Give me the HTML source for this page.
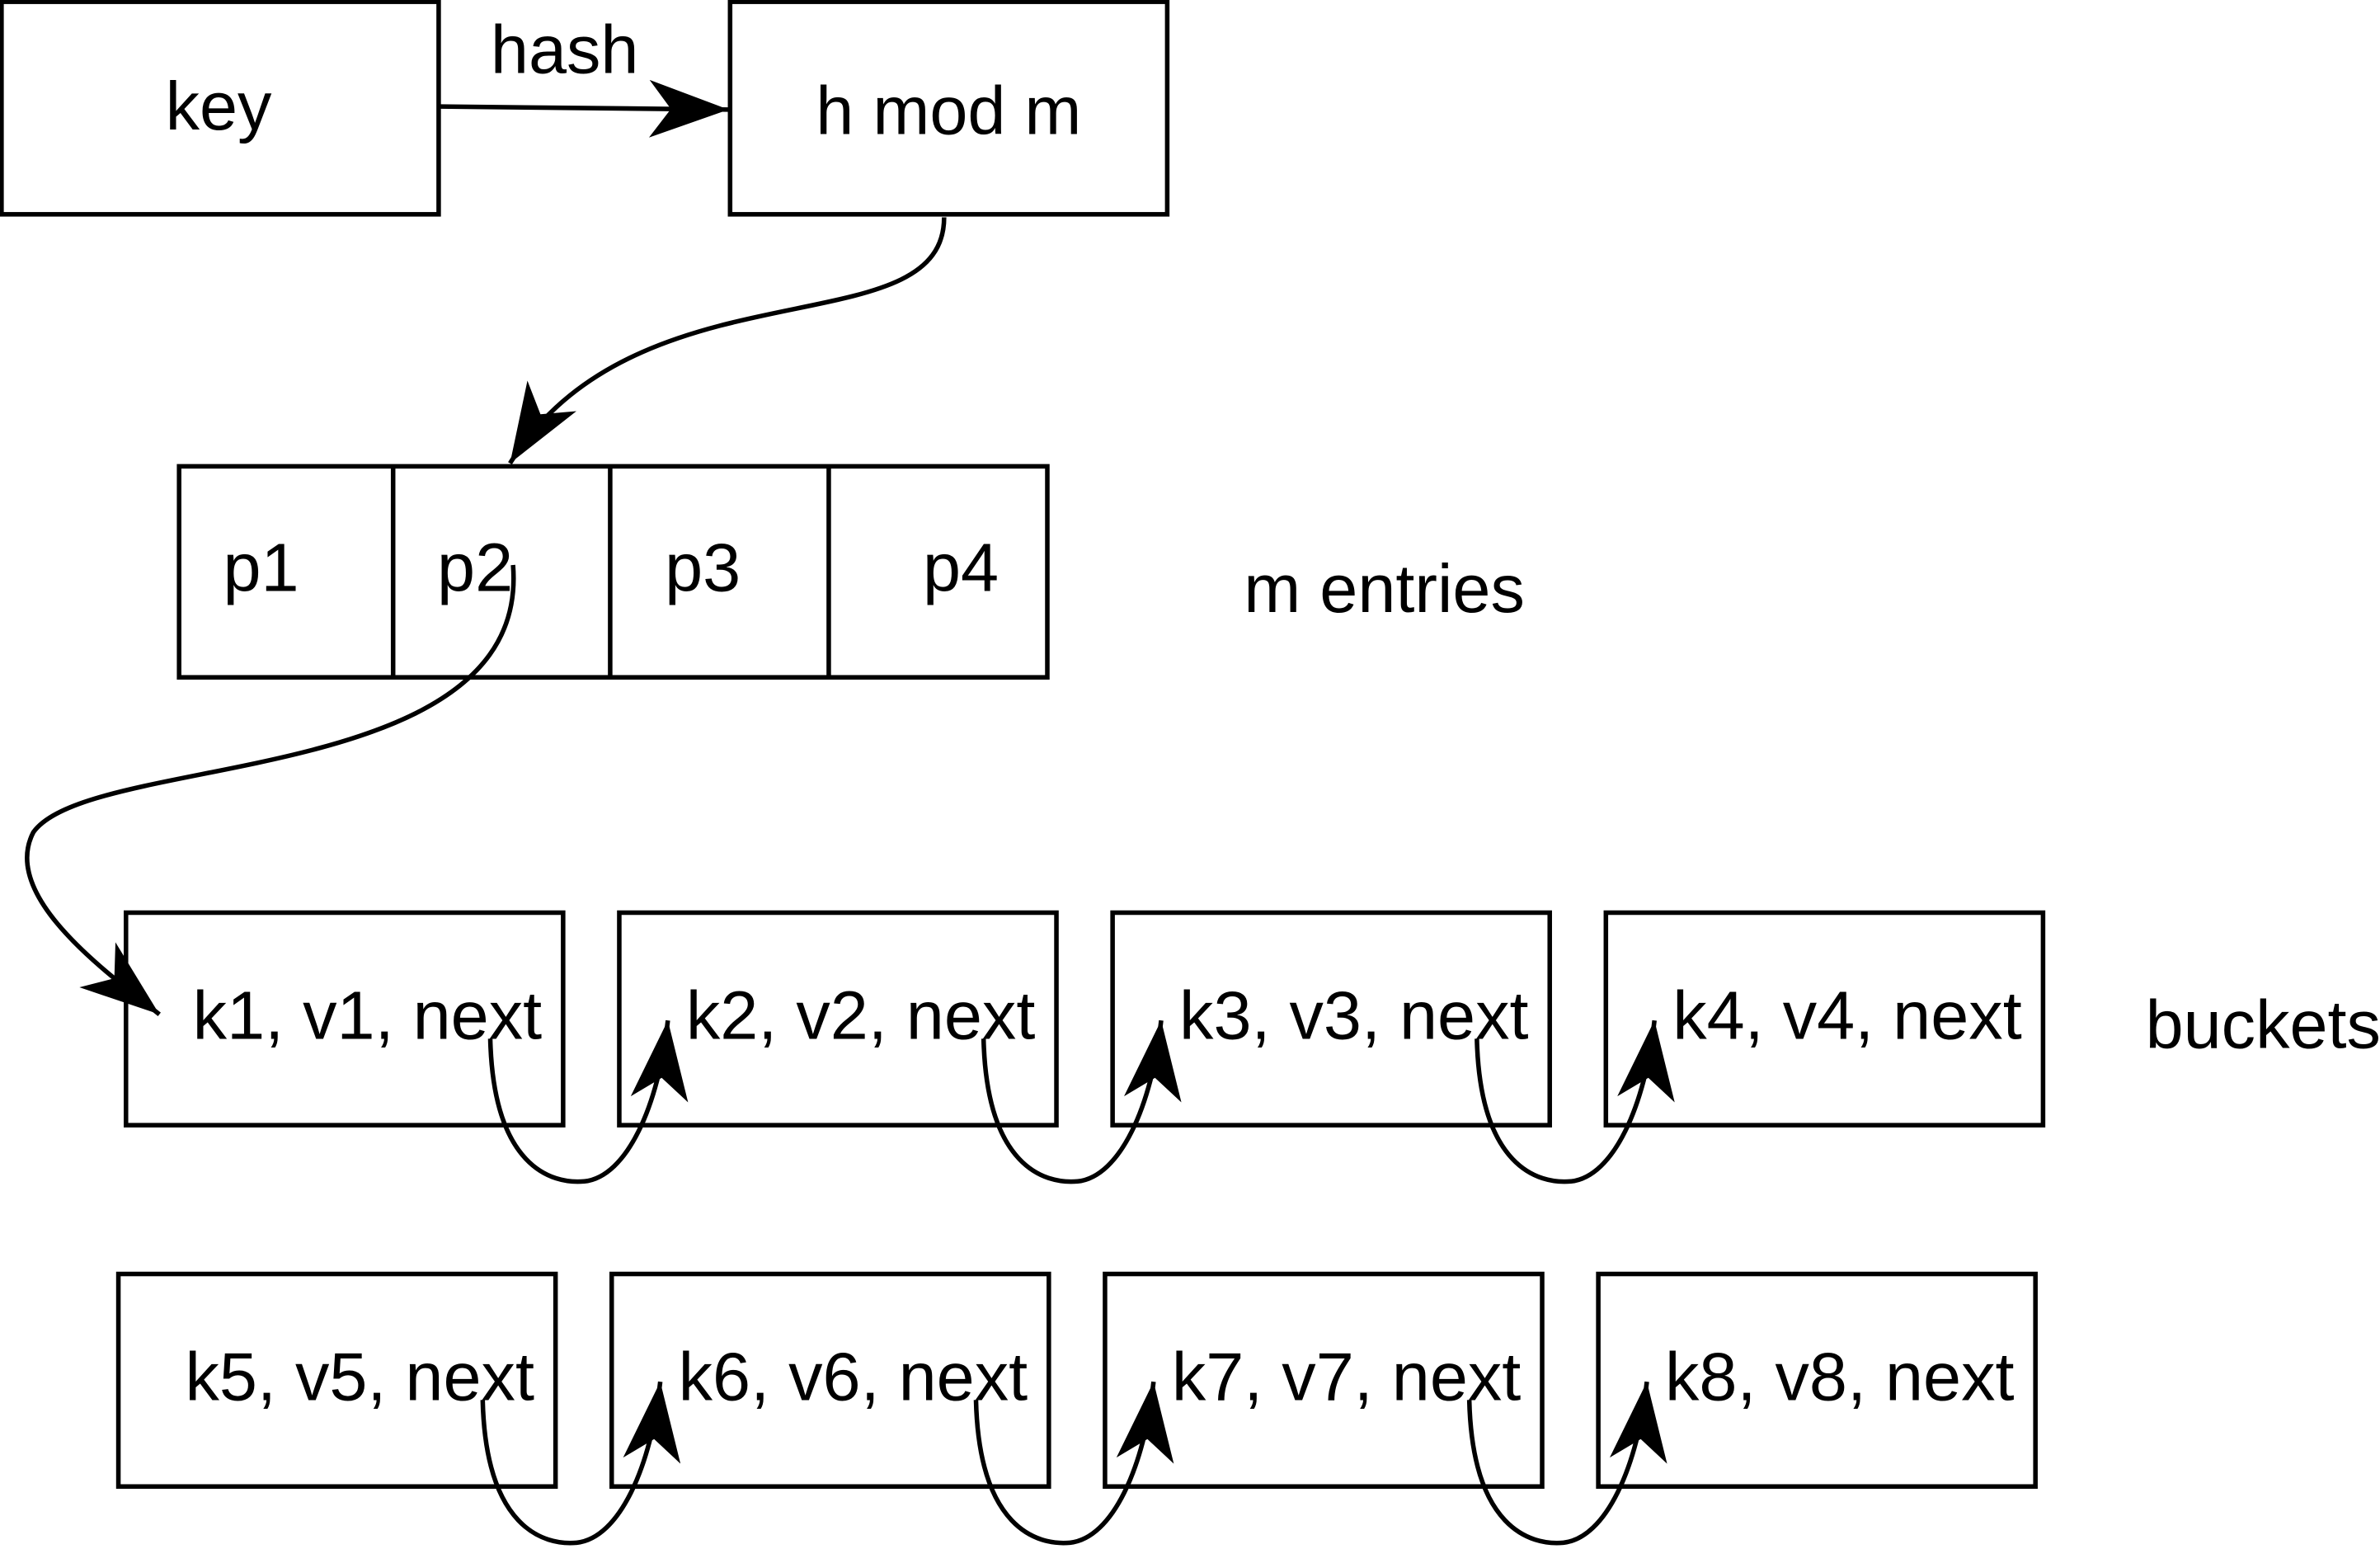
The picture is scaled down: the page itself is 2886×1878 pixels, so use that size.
<!DOCTYPE html>
<html><head><meta charset="utf-8"><style>
html,body{margin:0;padding:0;background:#fff;}
svg{display:block;}
text{font-family:"Liberation Sans",sans-serif;font-size:45px;fill:#000;text-anchor:middle;}
</style></head><body>
<svg width="2886" height="1878" viewBox="0 0 1568 1020" xmlns="http://www.w3.org/2000/svg">
<defs>
<marker id="ah" viewBox="0 0 22 16" refX="22" refY="8" markerWidth="56" markerHeight="38" markerUnits="userSpaceOnUse" orient="auto">
<path d="M0,0 L22,8 L0,16 L6,8 z" fill="#000"/>
</marker>
</defs>
<g fill="none" stroke="#000" stroke-width="3">
<rect x="1" y="1" width="288" height="140"/>
<rect x="481" y="1" width="288" height="140"/>
<rect x="118" y="307" width="572" height="139"/>
<line x1="259" y1="307" x2="259" y2="446"/>
<line x1="402" y1="307" x2="402" y2="446"/>
<line x1="546" y1="307" x2="546" y2="446"/>
<path d="M290,70 L480,72" marker-end="url(#ah)"/>
<path d="M622,143 C622,230 420,170 336,305" marker-end="url(#ah)"/>
<path d="M338,372 C350,520 60,495 22,548 C0,590 70,640 105,668" marker-end="url(#ah)"/>
</g>
<text x="144" y="85">key</text>
<text x="372" y="48">hash</text>
<text x="625" y="88">h mod m</text>
<text x="172" y="389">p1</text>
<text x="313" y="389">p2</text>
<text x="463" y="389">p3</text>
<text x="633" y="389">p4</text>
<text x="912" y="403">m entries</text>
<text x="1491" y="690">buckets</text>
<g id="rows"></g>
</svg>
<script>
const rowTops=[601,839];
const rowLeft=[83,78];
const colStep=325;
const bucketLabels=[["k1, v1, next","k2, v2, next","k3, v3, next","k4, v4, next"],["k5, v5, next","k6, v6, next","k7, v7, next","k8, v8, next"]];
const NS="http://www.w3.org/2000/svg";
const g=document.getElementById('rows');
rowTops.forEach((top,r)=>{
 bucketLabels[r].forEach((lab,i)=>{
  const x=rowLeft[r]+i*colStep;
  const rc=document.createElementNS(NS,'rect');
  rc.setAttribute('x',x);rc.setAttribute('y',top);rc.setAttribute('width',288);rc.setAttribute('height',140);
  rc.setAttribute('fill','none');rc.setAttribute('stroke','#000');rc.setAttribute('stroke-width',3);
  
  
  g.appendChild(rc);
  const t=document.createElementNS(NS,'text');
  t.setAttribute('x',x+159);t.setAttribute('y',top+83);t.textContent=lab;
  
  
  g.appendChild(t);
  if(i<3){
   const sx=x+240,sy=top+83,tx=x+colStep+32,ty=top+71,by=top+177;
   const p=document.createElementNS(NS,'path');
   p.setAttribute('d',`M${sx},${sy} C${sx+2},${by-10} ${sx+40},${by+2} ${sx+62},${by} C${sx+90},${by-3} ${tx-6},${by-50} ${tx},${ty}`);
   p.setAttribute('fill','none');p.setAttribute('stroke','#000');p.setAttribute('stroke-width',3);
   p.setAttribute('marker-end','url(#ah)');
   
   
   g.appendChild(p);
  }
 });
});
</script>
</body></html>
